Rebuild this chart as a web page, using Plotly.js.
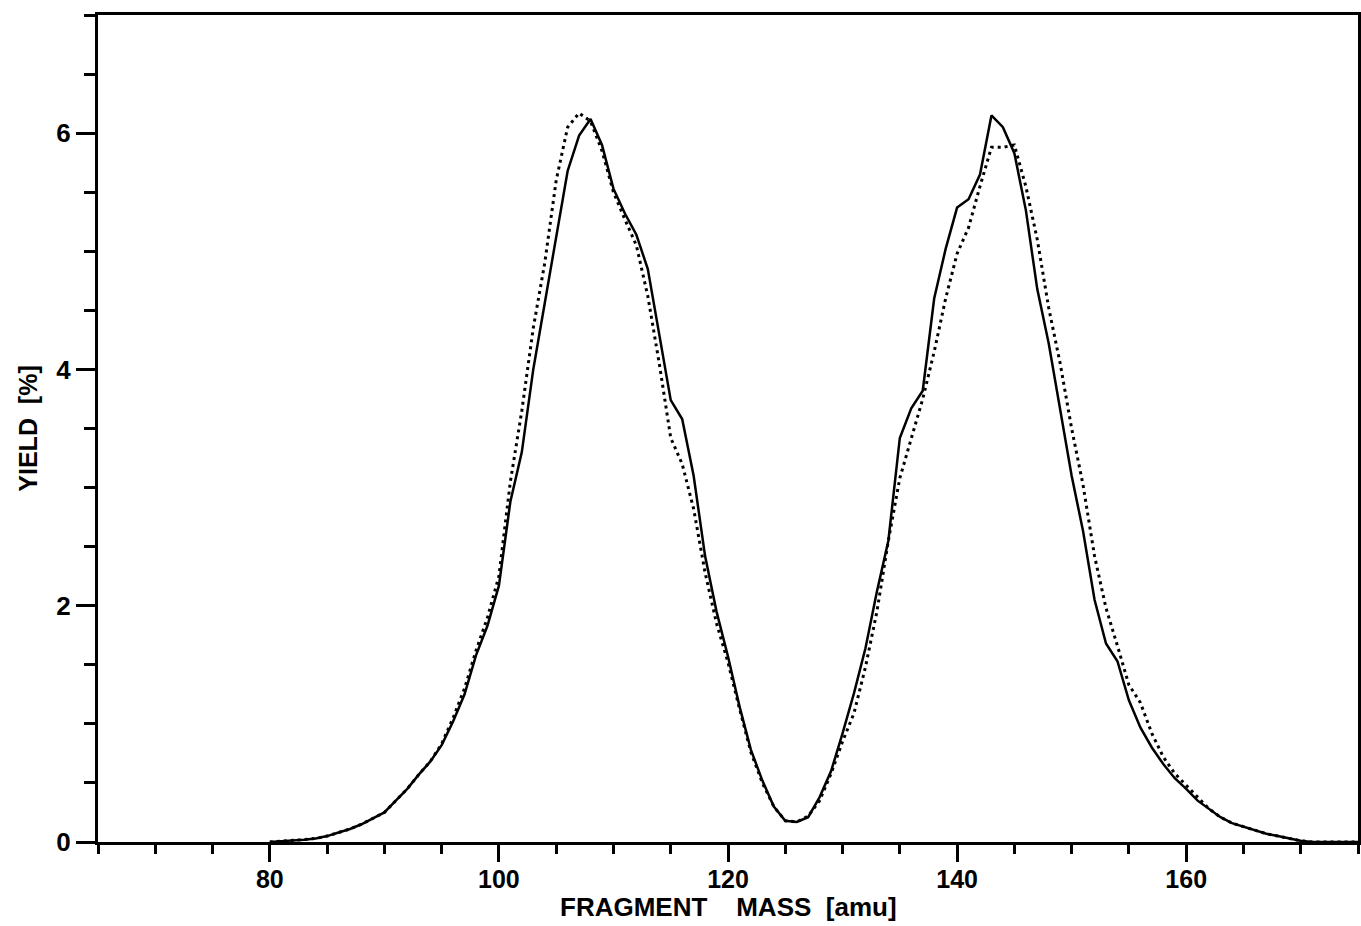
<!DOCTYPE html>
<html>
<head>
<meta charset="utf-8">
<script src="https://cdn.plot.ly/plotly-3.0.1.min.js"></script>
<style>html,body{margin:0;padding:0;background:#fff;}#chart{width:1361px;height:926px;}</style>
</head>
<body>
<div id="chart"></div>
<script>
// Fragment mass (amu)
const mass = [];
for (let m = 80; m <= 175; m++) mass.push(m);

// Solid curve: yield [%] at masses 80..175
const yieldSolid = [
  0.00, 0.005, 0.01, 0.02, 0.03, 0.05, 0.08, 0.11, 0.15, 0.20,   // 80-89
  0.25, 0.35, 0.45, 0.57, 0.68, 0.82, 1.02, 1.25, 1.58, 1.83,    // 90-99
  2.17, 2.88, 3.30, 4.00, 4.55, 5.10, 5.68, 5.98, 6.12, 5.90,    // 100-109
  5.53, 5.32, 5.14, 4.85, 4.28, 3.74, 3.58, 3.10, 2.42, 1.95,    // 110-119
  1.57, 1.15, 0.78, 0.52, 0.30, 0.18, 0.17, 0.21, 0.38, 0.60,    // 120-129
  0.92, 1.26, 1.64, 2.12, 2.55, 3.42, 3.67, 3.82, 4.60, 5.02,    // 130-139
  5.37, 5.44, 5.65, 6.15, 6.05, 5.83, 5.35, 4.68, 4.22, 3.65,    // 140-149
  3.10, 2.63, 2.05, 1.68, 1.53, 1.20, 0.97, 0.80, 0.66, 0.54,    // 150-159
  0.45, 0.35, 0.28, 0.21, 0.16, 0.13, 0.10, 0.07, 0.05, 0.03,    // 160-169
  0.01, 0.00, 0.00, 0.00, 0.00, 0.00                             // 170-175
];

// Dotted curve: yield [%] at masses 80..175
const yieldDotted = [
  0.00, 0.005, 0.01, 0.02, 0.03, 0.05, 0.08, 0.11, 0.15, 0.20,   // 80-89
  0.25, 0.35, 0.45, 0.57, 0.68, 0.83, 1.05, 1.30, 1.62, 1.90,    // 90-99
  2.25, 3.05, 3.65, 4.35, 4.90, 5.60, 6.05, 6.17, 6.10, 5.85,    // 100-109
  5.50, 5.27, 5.05, 4.62, 4.05, 3.42, 3.20, 2.82, 2.28, 1.85,    // 110-119
  1.52, 1.13, 0.76, 0.50, 0.30, 0.18, 0.17, 0.22, 0.35, 0.58,    // 120-129
  0.85, 1.09, 1.48, 1.95, 2.55, 3.08, 3.42, 3.75, 4.15, 4.60,    // 130-139
  4.98, 5.20, 5.55, 5.88, 5.88, 5.90, 5.55, 5.10, 4.52, 4.05,    // 140-149
  3.50, 3.02, 2.42, 1.98, 1.66, 1.33, 1.18, 0.92, 0.72, 0.58,    // 150-159
  0.48, 0.38, 0.28, 0.21, 0.16, 0.13, 0.10, 0.07, 0.05, 0.03,    // 160-169
  0.01, 0.00, 0.00, 0.00, 0.00, 0.00                             // 170-175
];

const xTickVals = [80, 100, 120, 140, 160];
const yTickVals = [0, 2, 4, 6];
const xTitle = 'FRAGMENT\u00A0\u00A0\u00A0\u00A0MASS\u00A0\u00A0[amu]';
const yTitle = 'YIELD\u00A0\u00A0[%]';

const fontFam = 'Liberation Sans, Arial, sans-serif';

const traces = [
  {
    x: mass, y: yieldDotted, type: 'scatter', mode: 'lines',
    line: {color: '#000', width: 3, dash: '3px,4px'},
    hoverinfo: 'skip', showlegend: false
  },
  {
    x: mass, y: yieldSolid, type: 'scatter', mode: 'lines',
    line: {color: '#000', width: 2.5},
    hoverinfo: 'skip', showlegend: false
  }
];

const layout = {
  width: 1361, height: 926,
  margin: {l: 98, r: 3, t: 15, b: 84, pad: 0},
  paper_bgcolor: '#fff', plot_bgcolor: '#fff',
  showlegend: false,
  xaxis: {
    range: [65, 175], tickvals: xTickVals, ticktext: xTickVals.map(String),
    ticks: 'outside', ticklen: 17, tickwidth: 3, tickcolor: '#000',
    ticklabelstandoff: -4,
    minor: {ticks: 'outside', dtick: 5, tick0: 65, ticklen: 9, tickwidth: 3, tickcolor: '#000', showgrid: false},
    showline: true, linewidth: 3, linecolor: '#000', mirror: true,
    showgrid: false, zeroline: false,
    tickfont: {family: fontFam, size: 25, color: '#000', weight: 'bold'}
  },
  yaxis: {
    range: [0, 7], tickvals: yTickVals, ticktext: yTickVals.map(String),
    ticks: 'outside', ticklen: 19, tickwidth: 3, tickcolor: '#000',
    minor: {ticks: 'outside', dtick: 0.5, tick0: 0, ticklen: 11, tickwidth: 3, tickcolor: '#000', showgrid: false},
    showline: true, linewidth: 3, linecolor: '#000', mirror: true,
    showgrid: false, zeroline: false,
    tickfont: {family: fontFam, size: 26, color: '#000', weight: 'bold'},
    title: {text: yTitle, standoff: 12,
            font: {family: fontFam, size: 25, color: '#000', weight: 'bold'}}
  },
  annotations: [{
    text: xTitle, xref: 'paper', yref: 'paper', x: 0.5, y: 0,
    xanchor: 'center', yanchor: 'bottom', yshift: -82, showarrow: false,
    font: {family: fontFam, size: 26, color: '#000', weight: 'bold'}
  }]
};

Plotly.newPlot('chart', traces, layout, {staticPlot: true, displayModeBar: false});
</script>
</body>
</html>
